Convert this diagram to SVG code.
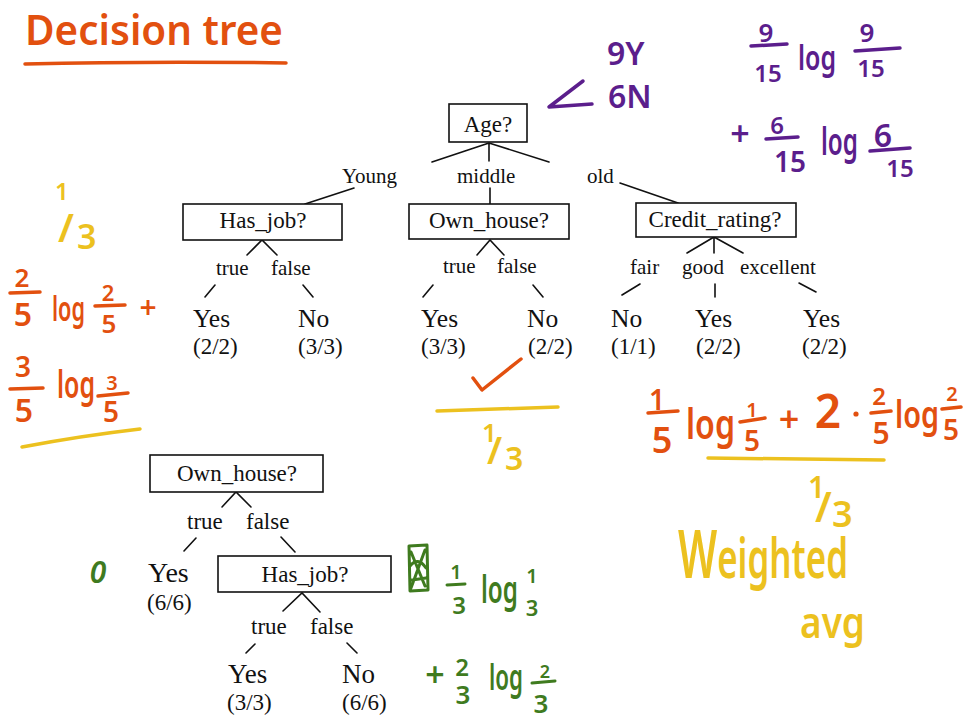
<svg xmlns="http://www.w3.org/2000/svg" width="964" height="720" viewBox="0 0 964 720">
<defs>
<style>
.bg{fill:#fff}
.box{fill:#fff;stroke:#111;stroke-width:1.6}
.edge{stroke:#111;stroke-width:1.6;fill:none;stroke-linecap:round}
.t{font-family:"Liberation Serif","Times New Roman",serif;fill:#111}
.nd{font-size:23px;text-anchor:middle}
.lab{font-size:21px}
.leaf{font-size:25.5px}
.cnt{font-size:23px}
.hw{font-family:"Noto Sans","DejaVu Sans",sans-serif;font-weight:600}
.c{text-anchor:middle}
.or{fill:#E2500F}
.pu{fill:#5B1E8C}
.ye{fill:#ECC11F}
.gr{fill:#3F7B1F}
.sor{stroke:#E2500F;fill:none;stroke-width:3.5;stroke-linecap:round;stroke-linejoin:round}
.spu{stroke:#5B1E8C;fill:none;stroke-width:3.5;stroke-linecap:round;stroke-linejoin:round}
.sye{stroke:#ECC11F;fill:none;stroke-width:3.5;stroke-linecap:round;stroke-linejoin:round}
.sgr{stroke:#3F7B1F;fill:none;stroke-width:3;stroke-linecap:round;stroke-linejoin:round}
</style>
</defs>
<rect class="bg" x="0" y="0" width="964" height="720"/>

<!-- connectors -->
<g id="connectors">
  <path class="edge" d="M489,143 L432,162 M489,143 L489,161 M489,143 L549,162"/>
  <path class="edge" d="M354,188 L305,204 M490,188 L490,204 M620,183 L678,203"/>
  <path class="edge" d="M247,255 L262,240 L277,255"/>
  <path class="edge" d="M477,255 L490,240 L504,255"/>
  <path class="edge" d="M687,253 L714,237 L743,253 M714,237 L714,253"/>
  <path class="edge" d="M215,285 L205,297 M303,285 L313,297"/>
  <path class="edge" d="M433,285 L423,297 M533,285 L543,297"/>
  <path class="edge" d="M640,284 L622,295 M715,284 L715,297 M799,283 L816,292"/>
  <path class="edge" d="M222,507 L236,492 L251,507"/>
  <path class="edge" d="M196,538 L184,551 M281,537 L295,552"/>
  <path class="edge" d="M283,611 L302,593 L320,612"/>
  <path class="edge" d="M255,644 L246,653 M347,643 L357,653"/>
</g>

<!-- edge labels -->
<g id="edge-labels" class="t lab">
  <text x="342" y="183">Young</text>
  <text x="457" y="183">middle</text>
  <text x="587" y="183">old</text>
  <text x="216" y="275">true</text>
  <text x="271" y="275">false</text>
  <text x="443" y="273">true</text>
  <text x="497" y="273">false</text>
  <text x="630" y="274">fair</text>
  <text x="682" y="274">good</text>
  <text x="740" y="274">excellent</text>
  <text x="187" y="529" font-size="23">true</text>
  <text x="246" y="529" font-size="23">false</text>
  <text x="251" y="634" font-size="23">true</text>
  <text x="310" y="634" font-size="23">false</text>
</g>

<!-- main tree nodes -->
<g id="age">
  <rect class="box" x="449" y="104" width="78" height="38"/>
  <text class="t nd" x="488" y="132" font-size="22">Age?</text>
</g>
<g id="has-job">
  <rect class="box" x="183" y="204" width="159" height="36"/>
  <text class="t nd" x="263" y="228">Has_job?</text>
</g>
<g id="own-house">
  <rect class="box" x="409" y="204" width="160" height="35"/>
  <text class="t nd" x="489" y="228">Own_house?</text>
</g>
<g id="credit-rating">
  <rect class="box" x="636" y="203" width="160" height="34"/>
  <text class="t nd" x="715" y="227">Credit_rating?</text>
</g>
<g id="leaf-hj-yes"><text class="t leaf" x="193" y="327">Yes</text><text class="t cnt" x="193" y="354">(2/2)</text></g>
<g id="leaf-hj-no"><text class="t leaf" x="298" y="327">No</text><text class="t cnt" x="298" y="354">(3/3)</text></g>
<g id="leaf-oh-yes"><text class="t leaf" x="421" y="327">Yes</text><text class="t cnt" x="421" y="354">(3/3)</text></g>
<g id="leaf-oh-no"><text class="t leaf" x="527" y="327">No</text><text class="t cnt" x="528" y="354">(2/2)</text></g>
<g id="leaf-cr-fair"><text class="t leaf" x="611" y="327">No</text><text class="t cnt" x="611" y="354">(1/1)</text></g>
<g id="leaf-cr-good"><text class="t leaf" x="695" y="327">Yes</text><text class="t cnt" x="696" y="354">(2/2)</text></g>
<g id="leaf-cr-exc"><text class="t leaf" x="803" y="327">Yes</text><text class="t cnt" x="802" y="354">(2/2)</text></g>

<!-- second tree -->
<g id="own-house-2">
  <rect class="box" x="150" y="455" width="173" height="37"/>
  <text class="t nd" x="237" y="481" font-size="26">Own_house?</text>
</g>
<g id="has-job-2">
  <rect class="box" x="218" y="556" width="173" height="36"/>
  <text class="t nd" x="305" y="582" font-size="25">Has_job?</text>
</g>
<g id="leaf2-yes"><text class="t" x="148" y="582" font-size="28">Yes</text><text class="t cnt" x="147" y="610">(6/6)</text></g>
<g id="leaf2-hj-yes"><text class="t" x="228" y="683" font-size="27">Yes</text><text class="t cnt" x="227" y="710">(3/3)</text></g>
<g id="leaf2-hj-no"><text class="t" x="342" y="683" font-size="27">No</text><text class="t cnt" x="342" y="710">(6/6)</text></g>

<!-- handwritten annotations -->
<g id="annotations">
  <!-- title -->
  <text class="hw or" x="25" y="45" font-size="42" textLength="258" lengthAdjust="spacingAndGlyphs" font-weight="normal">Decision tree</text>
  <path class="sor" d="M25,64 Q150,61 286,63" stroke-width="4"/>

  <!-- purple -->
  <text class="hw pu" font-size="32"><tspan x="607" y="65">9Y</tspan><tspan x="608" y="108">6N</tspan></text>
  <path class="spu" d="M583,81 L549,107 L592,104"/>
  <path class="spu" d="M751,46 L787,44 M855,51 L900,48 M766,139 L798,137 M870,151 L910,148"/>
  <text class="hw pu c"><tspan x="766" y="42" font-size="26">9</tspan><tspan x="768" y="82" font-size="24">15</tspan></text>
  <text class="hw pu" x="798" y="70" font-size="34" textLength="38" lengthAdjust="spacingAndGlyphs">log</text>
  <text class="hw pu c"><tspan x="867" y="42" font-size="26">9</tspan><tspan x="871" y="77" font-size="24">15</tspan></text>
  <text class="hw pu c" x="740" y="146" font-size="34">+</text>
  <text class="hw pu c"><tspan x="777" y="134" font-size="24">6</tspan><tspan x="790" y="172" font-size="28">15</tspan></text>
  <text class="hw pu" x="821" y="155" font-size="38" textLength="37" lengthAdjust="spacingAndGlyphs">log</text>
  <text class="hw pu c"><tspan x="883" y="147" font-size="32">6</tspan><tspan x="900" y="177" font-size="24">15</tspan></text>

  <!-- left yellow 1/3 -->
  <text class="hw ye" font-weight="normal"><tspan x="55" y="200" font-size="24">1</tspan><tspan x="58" y="242" font-size="40">/</tspan><tspan x="77" y="249" font-size="34">3</tspan></text>

  <!-- left orange -->
  <path class="sor" d="M10,293 L40,292 M95,306 L125,305 M10,389 L43,388 M98,396 L128,393"/>
  <text class="hw or c"><tspan x="22" y="287" font-size="26">2</tspan><tspan x="23" y="326" font-size="32">5</tspan></text>
  <text class="hw or" x="52" y="321" font-size="34" textLength="33" lengthAdjust="spacingAndGlyphs">log</text>
  <text class="hw or c"><tspan x="108" y="301" font-size="22">2</tspan><tspan x="109" y="333" font-size="26">5</tspan></text>
  <text class="hw or c" x="148" y="318" font-size="30">+</text>
  <text class="hw or c"><tspan x="23" y="377" font-size="28">3</tspan><tspan x="24" y="422" font-size="32">5</tspan></text>
  <text class="hw or" x="57" y="398" font-size="38" textLength="38" lengthAdjust="spacingAndGlyphs">log</text>
  <text class="hw or c"><tspan x="112" y="390" font-size="20">3</tspan><tspan x="111" y="422" font-size="28">5</tspan></text>
  <path class="sye" d="M22,447 Q80,436 140,429" stroke-width="4"/>

  <!-- check and 1/3 under Own_house -->
  <path class="sor" d="M473,378 L482,390 L521,359" stroke-width="5"/>
  <path class="sye" d="M437,411 L558,407"/>
  <text class="hw ye" font-weight="normal"><tspan x="482" y="442" font-size="26">1</tspan><tspan x="487" y="464" font-size="38">/</tspan><tspan x="505" y="470" font-size="32">3</tspan></text>

  <!-- orange formula right -->
  <path class="sor" d="M648,413 L678,411 M740,422 L765,418 M871,413 L891,411 M942,409 L961,407"/>
  <text class="hw or c"><tspan x="657" y="410" font-size="28">1</tspan><tspan x="662" y="453" font-size="36">5</tspan></text>
  <text class="hw or" x="686" y="439" font-size="42" textLength="49" lengthAdjust="spacingAndGlyphs">log</text>
  <text class="hw or c"><tspan x="752" y="417" font-size="20">1</tspan><tspan x="752" y="451" font-size="28">5</tspan></text>
  <text class="hw or c" x="789" y="432" font-size="36">+</text>
  <text class="hw or c" x="828" y="428" font-size="46">2</text>
  <circle cx="856" cy="414" r="2.6" fill="#E2500F"/>
  <text class="hw or c"><tspan x="879" y="405" font-size="24">2</tspan><tspan x="881" y="444" font-size="30">5</tspan></text>
  <text class="hw or" x="895" y="428" font-size="38" textLength="44" lengthAdjust="spacingAndGlyphs">log</text>
  <text class="hw or c"><tspan x="952" y="401" font-size="20">2</tspan><tspan x="951" y="440" font-size="28">5</tspan></text>
  <path class="sye" d="M708,458 L884,460"/>
  <text class="hw ye" font-weight="normal"><tspan x="808" y="498" font-size="30">1</tspan><tspan x="815" y="522" font-size="42">/</tspan><tspan x="832" y="527" font-size="36">3</tspan></text>

  <!-- weighted avg -->
  <text class="hw ye" x="678" y="578" font-size="56" textLength="170" lengthAdjust="spacingAndGlyphs" font-weight="normal"><tspan font-size="66">W</tspan>eighted</text>
  <text class="hw ye" x="800" y="638" font-size="44" textLength="65" lengthAdjust="spacingAndGlyphs" font-weight="normal">avg</text>

  <!-- green -->
  <text class="hw gr c" x="98" y="583" font-size="30" font-style="italic">0</text>
  <path class="sgr" d="M409,546 L427,545 L428,590 L410,591 Z M411,552 L425,586 M425,550 L411,588 M410,566 Q418,556 426,568 M412,580 L426,578"/>
  <path class="sgr" d="M447,585 L465,584 M532,683 L555,681"/>
  <text class="hw gr c"><tspan x="456" y="579" font-size="20">1</tspan><tspan x="459" y="614" font-size="24">3</tspan></text>
  <text class="hw gr" x="481" y="603" font-size="38" textLength="37" lengthAdjust="spacingAndGlyphs">log</text>
  <text class="hw gr c"><tspan x="532" y="583" font-size="20">1</tspan><tspan x="532" y="616" font-size="22">3</tspan></text>
  <text class="hw gr c" x="435" y="687" font-size="34">+</text>
  <text class="hw gr c"><tspan x="462" y="676" font-size="24">2</tspan><tspan x="463" y="704" font-size="26">3</tspan></text>
  <text class="hw gr" x="489" y="690" font-size="36" textLength="34" lengthAdjust="spacingAndGlyphs">log</text>
  <text class="hw gr c"><tspan x="545" y="678" font-size="18">2</tspan><tspan x="541" y="713" font-size="26">3</tspan></text>
</g>
</svg>
